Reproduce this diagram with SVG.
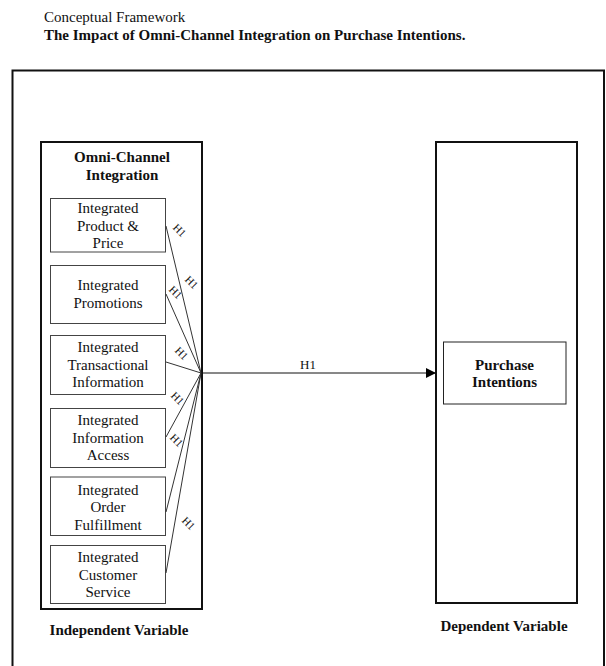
<svg xmlns="http://www.w3.org/2000/svg" width="606" height="666" viewBox="0 0 606 666">
<defs>
<marker id="arr" viewBox="0 0 10 10" refX="10" refY="5" markerWidth="10" markerHeight="10" markerUnits="userSpaceOnUse" orient="auto">
<path d="M0,0 L10,5 L0,10 z" fill="#000"/>
</marker>
<style>
text{font-family:"Liberation Serif","Times New Roman",serif;fill:#111;}
.t{font-size:15px;text-anchor:middle;}
.b{font-weight:bold;}
.h{font-size:11px;text-anchor:middle;}
.thick{fill:none;stroke:#111;stroke-width:2;}
.thin{fill:#fff;stroke:#444;stroke-width:1;}
.ln{fill:none;stroke:#333;stroke-width:1;}
</style>
</defs>
<rect width="606" height="666" fill="#fff"/>
<text x="44" y="22" style="font-size:15px">Conceptual Framework</text>
<text x="44" y="40" class="b" style="font-size:15px">The Impact of Omni-Channel Integration on Purchase Intentions.</text>
<rect x="12.5" y="70.5" width="591.5" height="620" class="thick"/>

<g id="omni">
<rect x="41" y="142" width="161" height="467" class="thick"/>
<text x="122" y="162" class="t b">Omni-Channel</text>
<text x="122" y="179.5" class="t b">Integration</text>
<text x="119" y="635" class="t b">Independent Variable</text>
</g>
<g id="n1"><rect x="50.5" y="198.5" width="115" height="53.5" class="thin"/>
<text x="108" y="213" class="t">Integrated</text><text x="108" y="230.5" class="t">Product &amp;</text><text x="108" y="248" class="t">Price</text></g>
<g id="n2"><rect x="50.5" y="265.5" width="115" height="58" class="thin"/>
<text x="108" y="290" class="t">Integrated</text><text x="108" y="307.5" class="t">Promotions</text></g>
<g id="n3"><rect x="50.5" y="335.5" width="115" height="59" class="thin"/>
<text x="108" y="352" class="t">Integrated</text><text x="108" y="369.5" class="t">Transactional</text><text x="108" y="387" class="t">Information</text></g>
<g id="n4"><rect x="50.5" y="408.5" width="115" height="59" class="thin"/>
<text x="108" y="425" class="t">Integrated</text><text x="108" y="442.5" class="t">Information</text><text x="108" y="460" class="t">Access</text></g>
<g id="n5"><rect x="50.5" y="477" width="115" height="58.5" class="thin"/>
<text x="108" y="494.5" class="t">Integrated</text><text x="108" y="512" class="t">Order</text><text x="108" y="529.5" class="t">Fulfillment</text></g>
<g id="n6"><rect x="50.5" y="545.5" width="115" height="58" class="thin"/>
<text x="108" y="562" class="t">Integrated</text><text x="108" y="579.5" class="t">Customer</text><text x="108" y="597" class="t">Service</text></g>

<g id="dep">
<rect x="436" y="142" width="141" height="461" class="thick"/>
<text x="504" y="631" class="t b">Dependent Variable</text>
</g>
<g id="pi"><rect x="443.5" y="342" width="122.5" height="62" class="thin" style="stroke:#222"/>
<text x="504.5" y="369.5" class="t b">Purchase</text><text x="504.5" y="387" class="t b">Intentions</text></g>

<g id="connectors">
<line x1="166" y1="226" x2="201" y2="373" class="ln"/>
<line x1="166" y1="294" x2="201" y2="373" class="ln"/>
<line x1="166" y1="362" x2="201" y2="373" class="ln"/>
<line x1="166" y1="437" x2="201" y2="373" class="ln"/>
<line x1="166" y1="512" x2="201" y2="373" class="ln"/>
<line x1="166" y1="573" x2="201" y2="373" class="ln"/>
<line x1="201" y1="373" x2="436" y2="373" stroke="#111" stroke-width="1" marker-end="url(#arr)"/>
<text x="308" y="369" style="font-size:13px;text-anchor:middle">H1</text>
<text class="h" transform="translate(177,233) rotate(45)">H1</text>
<text class="h" transform="translate(189,285) rotate(45)">H1</text>
<text class="h" transform="translate(173,295) rotate(45)">H1</text>
<text class="h" transform="translate(179,356) rotate(45)">H1</text>
<text class="h" transform="translate(175,401) rotate(45)">H1</text>
<text class="h" transform="translate(174,443) rotate(45)">H1</text>
<text class="h" transform="translate(186,526) rotate(45)">H1</text>
</g>
</svg>
